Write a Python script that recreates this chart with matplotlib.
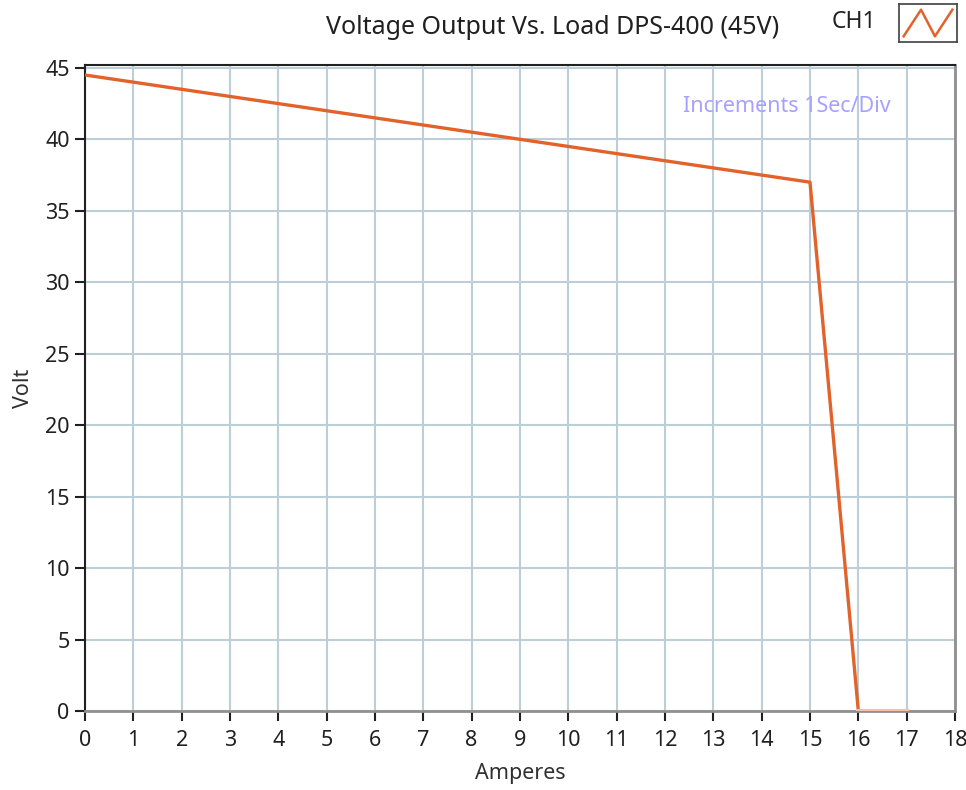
import numpy as np
import matplotlib
matplotlib.use('Agg')
import matplotlib.pyplot as plt

plt.rcParams['font.family'] = ['Noto Sans', 'DejaVu Sans']

# data
amps = [0, 1, 2, 3, 4, 5, 6, 7, 8, 9, 10, 11, 12, 13, 14, 15, 16]
volts = [44.5, 44.0, 43.5, 43.0, 42.5, 42.0, 41.5, 41.0, 40.5, 40.0,
         39.5, 39.0, 38.5, 38.0, 37.5, 37.0, 0.0]
tail_amps = [16, 17]
tail_volts = [0.0, 0.0]

x_ticks = list(range(0, 19))
y_ticks = list(range(0, 50, 5))

line_color = '#e2622b'
grid_color = '#bccfd9'

fig = plt.figure(figsize=(9.66, 7.9), dpi=100)
ax = fig.add_axes([85 / 966, 1 - 711 / 790, 870 / 966, 646 / 790])

ax.plot(amps, volts, color=line_color, lw=2.4, zorder=3)
ax.plot(tail_amps, tail_volts, color='#f4c0ad', lw=3, zorder=3)

ax.set_xlim(0, 18)
ax.set_ylim(0, 45.2)
ax.set_xticks(x_ticks)
ax.set_yticks(y_ticks)
ax.grid(True, color=grid_color, lw=1.5)
ax.set_axisbelow(True)

for s in ['left', 'top']:
    ax.spines[s].set_color('#202020')
    ax.spines[s].set_linewidth(1.5)
for s in ['right', 'bottom']:
    ax.spines[s].set_color('#909090')
    ax.spines[s].set_linewidth(2)

ax.tick_params(direction='out', length=7, width=1.5, colors='#202020',
               labelsize=15.5)
ax.tick_params(axis='x', pad=7)
ax.tick_params(axis='y', pad=4)

ax.set_xlabel('Amperes', fontsize=15.5, color='#303030', labelpad=8)
ax.set_ylabel('Volt', fontsize=15.5, color='#303030', labelpad=8)

ax.text(0.926, 0.935, 'Increments 1Sec/Div', transform=ax.transAxes,
        ha='right', va='center', fontsize=15.5, color='#a6a0ff')

fig.text(553 / 966, 1 - 28 / 790, 'Voltage Output Vs. Load DPS-400 (45V)',
         ha='center', va='center', fontsize=18, color='#202020')
fig.text(854 / 966, 1 - 22 / 790, 'CH1', ha='center', va='center',
         fontsize=16.5, color='#202020')

# legend icon
lax = fig.add_axes([899 / 966, 1 - 42 / 790, 58 / 966, 38 / 790])
lax.plot([0.08, 0.38, 0.62, 0.92], [0.15, 0.85, 0.15, 0.85], color=line_color, lw=1.8)
lax.set_xlim(0, 1)
lax.set_ylim(0, 1)
lax.set_xticks([])
lax.set_yticks([])
for s in lax.spines.values():
    s.set_color('#404040')
    s.set_linewidth(1.2)

fig.savefig('out.png', dpi=100)
